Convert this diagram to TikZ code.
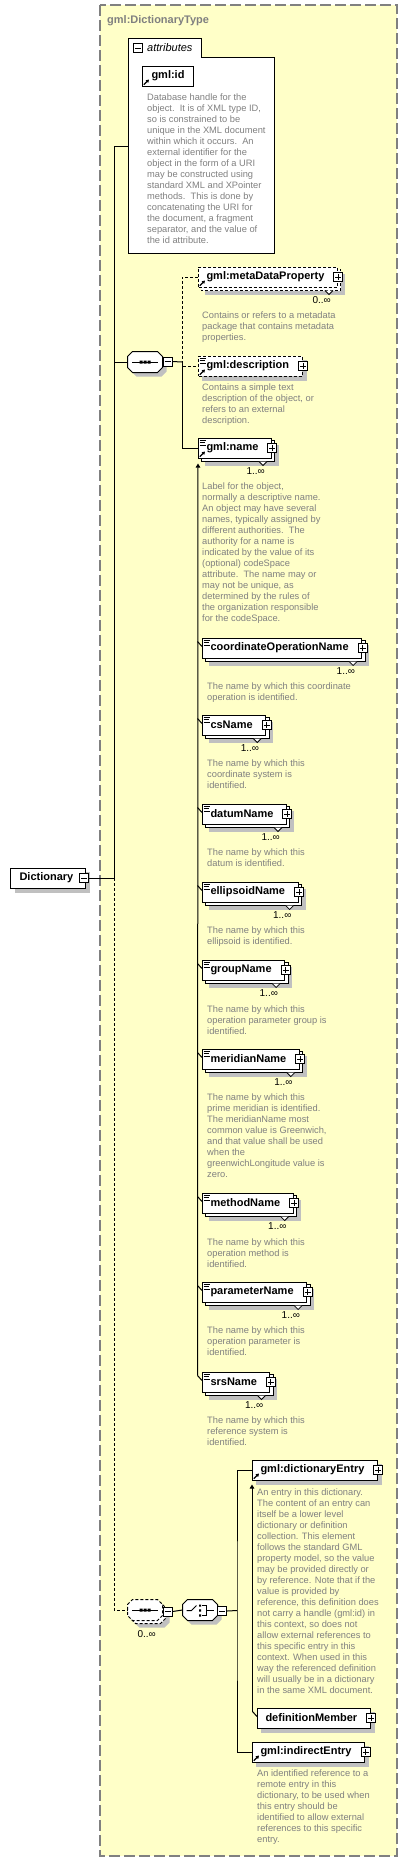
\documentclass[tikz,border=0pt]{standalone}
\usepackage{fontspec}
\setmainfont{Liberation Sans}
\usetikzlibrary{calc,arrows.meta}
\pgfdeclarelayer{bgA}
\pgfdeclarelayer{bgB}
\pgfsetlayers{bgA,bgB,main}
\definecolor{ybg}{HTML}{FFFFC8}
\definecolor{bordgray}{HTML}{808080}
\definecolor{descgray}{HTML}{808080}
\definecolor{shadowc}{HTML}{C0C0C0}
\newcommand\lblfont{\fontsize{11bp}{13bp}\selectfont\bfseries}
\newcommand\dscfont{\fontsize{9.3bp}{11bp}\selectfont}
\newcommand\mulfont{\fontsize{10bp}{12bp}\selectfont}
\tikzset{
 elbox/.style={draw, fill=white, anchor=west, minimum height=20bp, inner xsep=0pt, inner ysep=0pt, font=\lblfont, line width=1bp},
 dsh/.style={dash pattern=on 3bp off 2bp},
 solidb/.style={},
 pmbox/.style={draw, fill=white, minimum size=9bp, inner sep=0pt, line width=1bp},
 desc/.style={anchor=north west, align=left, inner sep=0pt, font=\dscfont, text=descgray},
 mult/.style={anchor=east, inner sep=0pt, font=\mulfont},
 conn/.style={line width=1bp},
 dconn/.style={line width=1bp, dash pattern=on 3bp off 2bp},
 uptip/.style={-{Triangle[length=4bp,width=4.5bp]}},
}
\newcommand\XEl[5]{\node[elbox,#5] (#1) at (#2,#3) {\hspace*{8bp}#4\hspace*{13bp}};}
\newcommand\XShd[2]{\begin{pgfonlayer}{bgB}\fill[shadowc] ($(#1.north west)+(#2,#2)$) rectangle ($(#1.south east)+(#2,#2)$);\end{pgfonlayer}}
\newcommand\XBack[2]{\begin{pgfonlayer}{bgB}\draw[fill=white,line width=1bp,#2] ($(#1.north west)+(3,3)$) rectangle ($(#1.south east)+(3,3)$);\end{pgfonlayer}}
\newcommand\XNotch[1]{\fill[white] ($(#1.south east)+(-13,3)$) -- ++(4,4) -- ++(4,-4) -- cycle;\draw[line width=0.8bp] ($(#1.south east)+(-13,3)$) -- ++(4,4) -- ++(4,-4);}
\newcommand\XPlus[1]{\node[pmbox] (#1p) at ($(#1.east)+(0.5,0)$) {};\draw[line width=1bp] ($(#1p.center)+(-3,0)$) -- ($(#1p.center)+(3,0)$) ($(#1p.center)+(0,-3)$) -- ($(#1p.center)+(0,3)$);}
\newcommand\XMinusAt[3]{\node[pmbox] (#1) at (#2,#3) {};\draw[line width=1bp] ($(#1.center)+(-3,0)$) -- ($(#1.center)+(3,0)$);}
\newcommand\XLines[1]{\draw[line width=0.8bp] ($(#1.north west)+(1.5,3)$) -- ++(6,0) ($(#1.north west)+(1.5,5.3)$) -- ++(5,0) ($(#1.north west)+(1.5,7.6)$) -- ++(6,0);}
\newcommand\XArr[1]{\draw[line width=1.3bp,-{Triangle[length=3bp,width=3.5bp]}] ($(#1.south west)+(1.8,-1.8)$) -- ($(#1.south west)+(7,-7)$);}
\newcommand\XTick[1]{\draw[conn] ($(#1.north west)+(-4.5,4)$) -- ($(#1.north west)+(0,9)$);}
\newcommand\XNameEl[6]{\XEl{#1}{#2}{#3}{#4}{#5}\XShd{#1}{7}\XBack{#1}{#5}\XNotch{#1}\XPlus{#1}\node[mult] (#1M) at ($(#1.east)+(-7,23)$) {#6};}
\newcommand\octP[2]{(#1,#2-5.5) -- (#1+5,#2-10.5) -- (#1+30,#2-10.5) -- (#1+35,#2-5.5) -- (#1+35,#2+5.5) -- (#1+30,#2+10.5) -- (#1+5,#2+10.5) -- (#1,#2+5.5) -- cycle}
\begin{document}
\begin{tikzpicture}[x=1bp,y=-1bp]
\useasboundingbox (0,0) rectangle (407,1862);
% outer complex type box
\begin{pgfonlayer}{bgA}
\fill[white] (0,0) rectangle (407,1862);
\draw[bordgray, line width=1.5bp, dash pattern=on 11bp off 4bp, fill=ybg] (100,5) rectangle (397,1856);
\end{pgfonlayer}
\node[anchor=base west, inner sep=0pt, text=bordgray, font=\lblfont] (title) at (107,23) {gml:DictionaryType};

% attributes box
\draw[fill=white, line width=1bp] (128,38) -- (201,38) -- (201,57) -- (274,57) -- (274,253) -- (128,253) -- cycle;
\coordinate (attr) at (128,146);
\XMinusAt{attrm}{138}{48}
\node[anchor=west, inner sep=0pt, font=\fontsize{11bp}{13bp}\selectfont\itshape] (attrT) at (147,48) {attributes};
\node[elbox] (gid) at (142,76) {\hspace*{9bp}gml:id\hspace*{9bp}};
\XShd{gid}{4.5}\XArr{gid}
\node[desc] (gidD) at (147,94) {Database handle for the\\object.\ \ It is of XML type ID,\\so is constrained to be\\unique in the XML document\\within which it occurs.\ \ An\\external identifier for the\\object in the form of a URI\\may be constructed using\\standard XML and XPointer\\methods.\ \ This is done by\\concatenating the URI for\\the document, a fragment\\separator, and the value of\\the id attribute.};

% Dictionary root
\node[elbox] (dict) at (10,878) {\hspace*{9bp}Dictionary\hspace*{12bp}};
\XShd{dict}{4.5}
\XMinusAt{dictm}{84}{878}

% sequence 1
\begin{pgfonlayer}{bgB}\fill[shadowc] \octP{131.5}{366};\end{pgfonlayer}
\draw[fill=white,line width=1bp] \octP{127.5}{362};
\coordinate (seq1) at (127.5,362);
\draw[line width=1bp] (132,362) -- (158,362);
\fill (139.5,360.5) rectangle ++(3,3) (143.5,360.5) rectangle ++(3,3) (147.5,360.5) rectangle ++(3,3);
\XMinusAt{seq1m}{167.5}{361.5}

% sequence 2 (dashed, 0..inf)
\begin{pgfonlayer}{bgB}\fill[shadowc] \octP{134.5}{1617};
\draw[fill=white,line width=1bp,dsh] \octP{130.5}{1613};\end{pgfonlayer}
\draw[fill=white,line width=1bp,dsh] \octP{127.5}{1610};
\coordinate (seq2) at (127.5,1610);
\draw[line width=1bp] (132,1610) -- (158,1610);
\fill (139.5,1608.5) rectangle ++(3,3) (143.5,1608.5) rectangle ++(3,3) (147.5,1608.5) rectangle ++(3,3);
\XMinusAt{seq2m}{167.5}{1611.5}
\node[mult] (seq2M) at (156,1634) {0..∞};

% choice
\begin{pgfonlayer}{bgB}\fill[shadowc] \octP{186.5}{1614};\end{pgfonlayer}
\draw[fill=white,line width=1bp] \octP{182.5}{1610};
\coordinate (cho) at (182.5,1610);
\draw[line width=1bp] (186.5,1610.5) -- (191.5,1610.5) -- (196.5,1605.5);
\fill (199,1604.5) rectangle ++(2.2,2.2) (199,1609.4) rectangle ++(2.2,2.2) (199,1614.3) rectangle ++(2.2,2.2);
\draw[line width=1bp] (202,1605.5) -- (206.5,1605.5) -- (206.5,1615.5) -- (202,1615.5) (206.5,1610.5) -- (213.5,1610.5);
\XMinusAt{chom}{222}{1611}

% elements of sequence 1
\XNameEl{mdp}{198}{277}{gml:metaDataProperty}{dsh}{0..∞}
\XArr{mdp}
\node[desc] (mdpD) at (202,312) {Contains or refers to a metadata\\package that contains metadata\\properties.};

\XEl{gdsc}{198}{366}{gml:description}{dsh}
\XShd{gdsc}{4}\XPlus{gdsc}\XLines{gdsc}\XArr{gdsc}
\node[desc] (gdscD) at (202,384) {Contains a simple text\\description of the object, or\\refers to an external\\description.};

\XNameEl{gname}{198}{448}{gml:name}{solidb}{1..∞}
\XLines{gname}\XArr{gname}
\node[desc] (gnameD) at (202,483) {Label for the object,\\normally a descriptive name.\\An object may have several\\names, typically assigned by\\different authorities.\ \ The\\authority for a name is\\indicated by the value of its\\(optional) codeSpace\\attribute.\ \ The name may or\\may not be unique, as\\determined by the rules of\\the organization responsible\\for the codeSpace.};

\XNameEl{con}{202}{648}{coordinateOperationName}{solidb}{1..∞}\XLines{con}\XTick{con}
\node[desc] (conD) at (207,683) {The name by which this coordinate\\operation is identified.};
\XNameEl{csn}{202}{725}{csName}{solidb}{1..∞}\XLines{csn}\XTick{csn}
\node[desc] (csnD) at (207,760) {The name by which this\\coordinate system is\\identified.};
\XNameEl{dtn}{202}{814}{datumName}{solidb}{1..∞}\XLines{dtn}\XTick{dtn}
\node[desc] (dtnD) at (207,849) {The name by which this\\datum is identified.};
\XNameEl{eln}{202}{892}{ellipsoidName}{solidb}{1..∞}\XLines{eln}\XTick{eln}
\node[desc] (elnD) at (207,927) {The name by which this\\ellipsoid is identified.};
\XNameEl{grn}{202}{970}{groupName}{solidb}{1..∞}\XLines{grn}\XTick{grn}
\node[desc] (grnD) at (207,1006) {The name by which this\\operation parameter group is\\identified.};
\XNameEl{mrn}{202}{1059}{meridianName}{solidb}{1..∞}\XLines{mrn}\XTick{mrn}
\node[desc] (mrnD) at (207,1094) {The name by which this\\prime meridian is identified.\\The meridianName most\\common value is Greenwich,\\and that value shall be used\\when the\\greenwichLongitude value is\\zero.};
\XNameEl{mtn}{202}{1203}{methodName}{solidb}{1..∞}\XLines{mtn}\XTick{mtn}
\node[desc] (mtnD) at (207,1239) {The name by which this\\operation method is\\identified.};
\XNameEl{prn}{202}{1292}{parameterName}{solidb}{1..∞}\XLines{prn}\XTick{prn}
\node[desc] (prnD) at (207,1327) {The name by which this\\operation parameter is\\identified.};
\XNameEl{srn}{202}{1382}{srsName}{solidb}{1..∞}\XLines{srn}\XTick{srn}
\node[desc] (srnD) at (207,1417) {The name by which this\\reference system is\\identified.};

% elements of choice
\XEl{dent}{252}{1470}{gml:dictionaryEntry}{solidb}
\XShd{dent}{4}\XPlus{dent}\XArr{dent}
\node[desc] (dentD) at (257,1489) {An entry in this dictionary.\\The content of an entry can\\itself be a lower level\\dictionary or definition\\collection. This element\\follows the standard GML\\property model, so the value\\may be provided directly or\\by reference. Note that if the\\value is provided by\\reference, this definition does\\not carry a handle (gml:id) in\\this context, so does not\\allow external references to\\this specific entry in this\\context. When used in this\\way the referenced definition\\will usually be in a dictionary\\in the same XML document.};
\XEl{defm}{257}{1718}{definitionMember}{solidb}
\XShd{defm}{4}\XPlus{defm}\XTick{defm}
\XEl{ient}{252}{1752}{gml:indirectEntry}{solidb}
\XShd{ient}{4}\XPlus{ient}\XArr{ient}
\node[desc] (ientD) at (257,1770) {An identified reference to a\\remote entry in this\\dictionary, to be used when\\this entry should be\\identified to allow external\\references to this specific\\entry.};

% connectors
\coordinate (jA) at (114,146);
\coordinate (jB) at (114,362);
\coordinate (jC) at (114,878);
\coordinate (jD) at (114,1610);
\coordinate (jE) at (182,362);
\coordinate (jG) at (237,1610.5);
\draw[conn] (dictm.east) -- (jC);
\draw[conn] (jA) -- (jC);
\draw[conn] (jA) -- (attr);
\draw[conn] (jB) -- (seq1);
\draw[dconn] (jC) -- (jD) -- (seq2);
\draw[conn] (seq1m.east) -- (jE);
\draw[dconn] (mdp.west) -| (jE);
\draw[dconn] (jE) |- (gdsc.west);
\draw[conn] (jE) |- (gname.west);
\draw[conn,uptip] ($(srn.north west)+(-4.5,4)$) -- ($(gname.south west)+(0,5)$);
\draw[conn] (seq2m.east) -- (cho);
\draw[conn] (chom.east) -- (jG);
\draw[conn] (dent.west) -| (jG) |- (ient.west);
\draw[conn,uptip] ($(defm.north west)+(-5,4)$) -- ($(dent.south west)+(0,4)$);
\end{tikzpicture}
\end{document}
